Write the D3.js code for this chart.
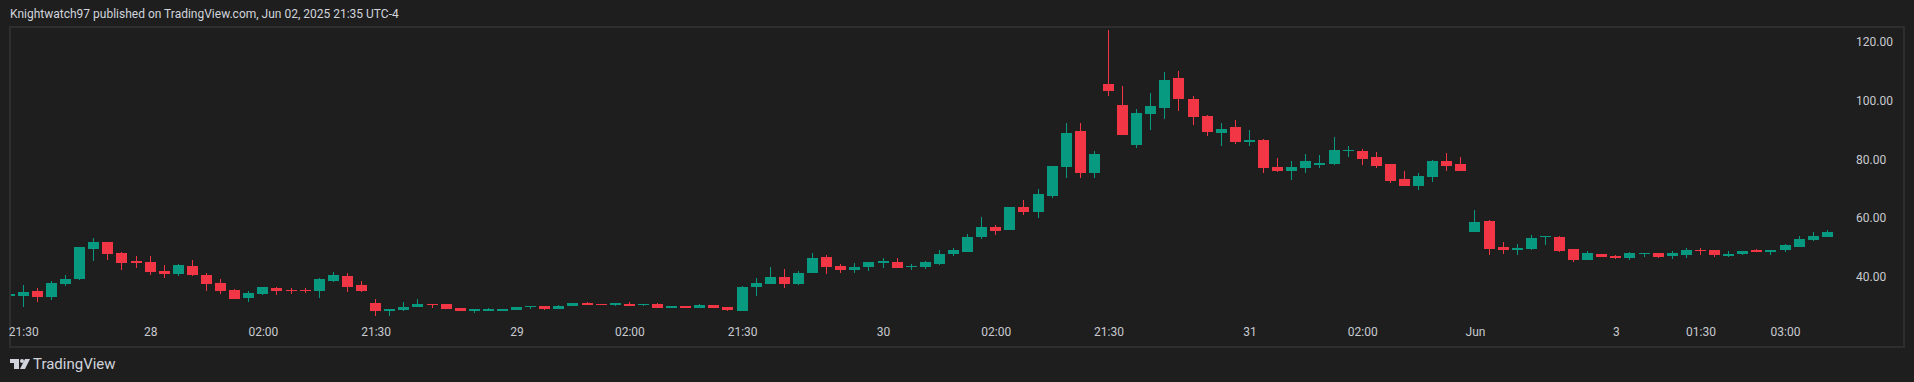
<!DOCTYPE html>
<html lang="en">
<head>
    <meta charset="UTF-8">
    <title>Knightwatch97 chart</title>
    <script src="https://d3js.org/d3.v7.min.js"></script>
    <style>
        body, html { margin: 0; padding: 0; background: #1e1e1e; overflow: hidden; }
        text { font-family: Roboto, sans-serif; }
    </style>
</head>
<body>
    <div id="chart"></div>
    <script>
        const width = 1914;
        const height = 382;

        // candles, oldest first
        const open = [33.64,33.64,35.35,33.30,37.73,39.43,49.65,52.03,48.28,45.56,45.22,42.16,41.13,43.86,40.79,38.07,35.69,32.96,34.33,36.37,35.69,35.69,35.35,38.75,40.45,37.39,31.26,28.54,28.88,29.90,30.92,30.92,29.56,28.54,28.54,28.54,28.88,29.90,30.24,29.22,30.24,31.26,30.92,30.58,30.92,30.58,30.92,29.56,30.24,29.56,30.58,29.90,28.54,36.71,37.73,40.11,37.73,41.48,46.92,43.86,42.50,43.52,44.88,45.22,43.52,43.52,44.54,47.94,48.62,53.73,57.13,56.11,63.94,62.24,67.69,77.56,89.82,75.52,105.82,98.67,85.05,95.60,97.65,107.86,100.71,94.92,89.14,91.18,86.07,86.75,77.56,76.20,77.22,78.24,78.58,83.01,83.01,80.97,78.58,73.48,71.09,74.16,79.60,78.58,55.43,59.18,50.33,49.31,49.65,53.73,53.73,49.65,45.90,47.94,47.26,46.58,47.94,48.28,47.26,47.60,49.31,49.31,47.26,47.94,49.31,48.62,49.31,50.33,52.71,53.73];
        const high = [34.33,37.39,36.37,38.75,40.79,50.33,53.39,52.03,48.62,47.26,47.26,44.20,44.54,45.90,41.48,39.43,36.03,35.35,36.71,36.71,36.37,36.37,39.77,41.82,41.48,38.75,32.62,29.22,31.60,32.62,30.92,30.92,29.56,29.22,29.56,29.22,29.90,30.24,30.24,30.58,31.26,31.60,30.92,31.26,31.60,30.92,31.26,30.24,30.24,30.92,30.58,29.90,37.05,39.77,43.52,42.84,42.16,48.28,47.60,44.54,44.88,45.22,46.58,46.58,44.54,45.56,49.31,49.99,54.75,60.54,57.82,63.94,66.33,70.07,77.90,92.54,92.54,83.01,124.20,105.14,97.31,102.75,109.90,110.24,101.73,95.26,92.54,93.56,90.16,87.09,80.63,79.60,81.99,81.65,87.78,84.71,83.69,82.67,78.58,76.20,75.52,79.94,82.33,80.97,62.92,59.52,52.03,51.35,54.41,54.07,54.07,49.65,48.97,47.94,47.60,48.62,48.28,48.28,48.97,49.99,49.99,49.31,48.97,48.97,49.65,49.31,51.35,54.07,55.43,56.11];
        const low = [33.64,29.90,31.60,32.28,37.05,39.09,45.56,45.90,42.50,43.18,40.79,39.77,40.45,40.45,35.35,34.33,32.62,31.60,33.99,33.99,34.33,34.67,32.96,38.41,35.01,35.01,26.84,26.84,28.54,29.90,29.56,29.22,28.54,27.86,28.54,28.54,28.88,29.22,28.88,29.22,30.24,30.58,30.58,30.24,30.24,30.24,29.56,29.56,29.56,29.56,29.56,28.54,28.54,33.64,37.73,36.37,37.39,41.48,41.13,41.48,41.48,42.16,43.18,43.18,42.50,42.84,44.20,47.26,48.62,53.05,54.41,56.11,61.22,60.20,67.01,73.82,73.82,73.82,101.73,88.46,84.03,90.16,93.90,96.62,91.86,88.12,84.71,85.39,84.71,75.52,75.86,73.14,75.52,77.22,78.24,80.97,78.24,77.22,72.11,71.09,69.73,72.45,76.20,76.20,55.43,47.60,47.94,47.60,49.31,51.01,48.62,45.22,45.90,46.92,46.24,45.90,46.92,46.58,46.24,46.58,47.60,46.92,46.92,47.60,48.62,47.60,48.62,50.33,52.37,53.73];
        const close = [34.33,35.01,33.30,38.07,39.43,50.33,52.03,47.94,44.88,44.88,41.82,41.13,44.20,40.79,37.73,35.35,32.62,34.67,36.71,35.35,35.35,35.35,39.43,40.79,36.71,35.35,28.54,29.22,29.90,30.92,30.58,29.22,28.54,29.22,29.22,29.22,29.90,30.24,29.22,30.24,31.26,30.58,30.58,31.26,30.24,30.92,29.56,30.24,29.56,30.58,29.56,28.88,36.71,38.07,40.11,37.73,41.48,46.58,43.52,42.50,43.52,45.22,45.56,43.18,43.86,45.22,47.94,49.31,53.73,57.13,55.77,63.94,62.24,68.37,77.90,89.14,75.52,81.99,103.43,88.46,95.94,98.33,107.18,100.71,94.58,89.48,90.50,86.07,86.75,77.22,76.20,77.56,79.60,78.92,83.35,83.35,80.29,77.90,72.79,71.09,74.50,79.60,77.90,76.20,58.84,49.65,49.31,49.99,53.39,54.07,48.97,45.90,48.28,46.92,46.58,48.28,48.28,46.92,48.28,49.31,48.97,47.60,47.94,48.97,48.62,49.31,51.01,53.05,54.07,55.43];

        // time axis labels sit on these candle numbers
        const timeTicks = [1, 10, 18, 26, 36, 44, 52, 62, 70, 78, 88, 96, 104, 114, 120, 126];
        const timeLabels = ["21:30", "28", "02:00", "21:30", "29", "02:00", "21:30", "30", "02:00", "21:30", "31", "02:00", "Jun", "3", "01:30", "03:00"];
        const priceTicks = [40, 60, 80, 100, 120];

        const candles = d3.range(open.length);

        const svg = d3.select("#chart")
            .append("svg")
            .attr("width", width)
            .attr("height", height)
            .style("display", "block");

        svg.append("rect")
            .attr("width", width)
            .attr("height", height)
            .attr("fill", "#1e1e1e");

        // x runs from the half hidden first candle to the last one
        const x = d3.scaleLinear().domain([0, 129]).range([9.2, 1827.3]);
        const y = d3.scaleLinear().domain([40, 120]).range([277.33, 42.33]);

        svg.append("clipPath").attr("id", "pane")
            .append("rect")
            .attr("x", 10).attr("y", 28)
            .attr("width", 1893).attr("height", 318);

        const upColor = "#089981";
        const downColor = "#f23645";
        const color = i => close[i] >= open[i] ? upColor : downColor;

        const plot = svg.append("g").attr("clip-path", "url(#pane)");

        // wicks
        plot.append("g")
            .selectAll("rect")
            .data(candles)
            .join("rect")
            .attr("x", i => Math.floor(x(i)))
            .attr("y", i => Math.round(y(high[i])))
            .attr("width", 1)
            .attr("height", i => Math.max(1, Math.round(y(low[i])) - Math.round(y(high[i]))))
            .attr("fill", color);

        // bodies
        plot.append("g")
            .selectAll("rect")
            .data(candles)
            .join("rect")
            .attr("x", i => Math.floor(x(i)) - 5)
            .attr("y", i => Math.round(y(Math.max(open[i], close[i]))))
            .attr("width", 11)
            .attr("height", i => Math.max(1, Math.round(y(Math.min(open[i], close[i]))) - Math.round(y(Math.max(open[i], close[i])))))
            .attr("fill", color);

        // pane frame
        svg.append("rect")
            .attr("x", 10).attr("y", 27)
            .attr("width", 1894).attr("height", 320)
            .attr("fill", "none")
            .attr("stroke", "#2e2e2e")
            .attr("stroke-width", 2);

        const xAxis = d3.axisBottom(x)
            .tickValues(timeTicks)
            .tickFormat(d => timeLabels[timeTicks.indexOf(d)])
            .tickSize(0);

        const yAxis = d3.axisRight(y)
            .tickValues(priceTicks)
            .tickFormat(d3.format(".2f"))
            .tickSize(0);

        svg.append("g")
            .attr("transform", "translate(0,323)")
            .call(xAxis)
            .call(g => g.select(".domain").remove())
            .call(g => g.selectAll("text").attr("dy", null).attr("y", 10)
                .attr("dominant-baseline", "middle")
                .attr("fill", "#c8cad0").attr("font-size", 12).attr("font-family", "Roboto, sans-serif"));

        svg.append("g")
            .attr("transform", "translate(1856,0)")
            .call(yAxis)
            .call(g => g.select(".domain").remove())
            .call(g => g.selectAll("text").attr("x", 0).attr("dy", null)
                .attr("dominant-baseline", "middle")
                .attr("fill", "#c8cad0").attr("font-size", 12).attr("font-family", "Roboto, sans-serif"));

        svg.append("text")
            .attr("x", 10).attr("y", 15)
            .attr("dominant-baseline", "middle")
            .attr("fill", "#d1d4dc")
            .attr("font-size", 12)
            .text("Knightwatch97 published on TradingView.com, Jun 02, 2025 21:35 UTC-4");

        // TradingView mark
        const logo = svg.append("g").attr("transform", "translate(10,359)").attr("fill", "#d1d4dc");
        logo.append("path").attr("d", "M0 0H9V10H4V4H0Z");
        logo.append("circle").attr("cx", 12).attr("cy", 2).attr("r", 2);
        logo.append("path").attr("d", "M15 0H20L15 10H10Z");

        svg.append("text")
            .attr("x", 33).attr("y", 365)
            .attr("dominant-baseline", "middle")
            .attr("fill", "#d1d4dc")
            .attr("font-size", 15)
            .text("TradingView");
    </script>
</body>
</html>
